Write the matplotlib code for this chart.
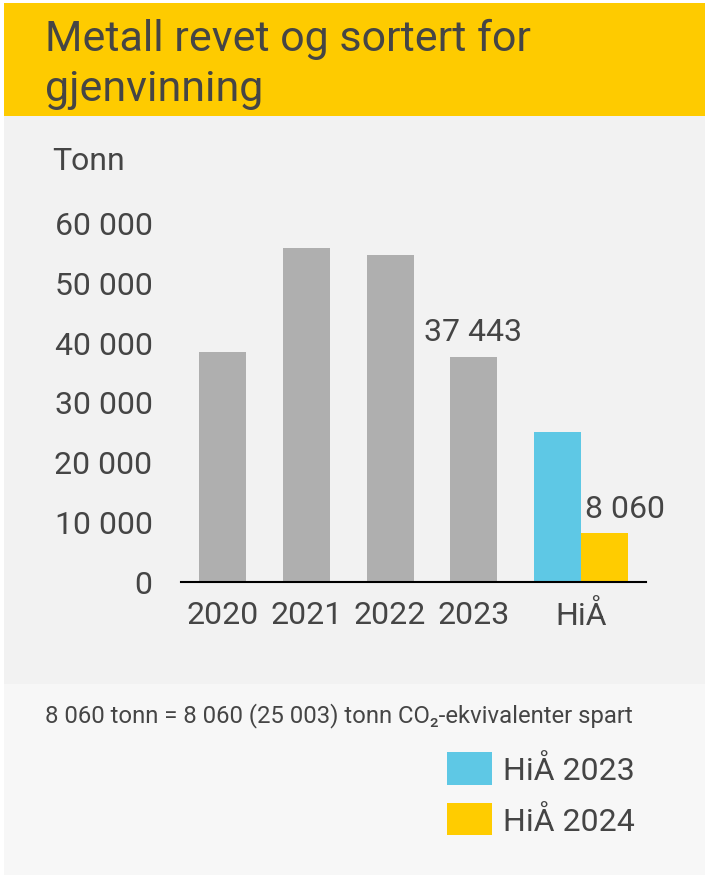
import matplotlib
matplotlib.use("Agg")
import matplotlib.pyplot as plt
from matplotlib.patches import Rectangle

plt.rcParams['font.family'] = ['Roboto', 'DejaVu Sans']

# data
aar = ["2020", "2021", "2022", "2023"]
tonn_aar = [38400, 55700, 54500, 37443]
hia_navn = "HiÅ"
hia_2023 = 25003
hia_2024 = 8060
y_ticks = [0, 10000, 20000, 30000, 40000, 50000, 60000]
y_tick_labels = ["0", "10 000", "20 000", "30 000", "40 000", "50 000", "60 000"]

tekst = "#454545"
graa = "#afafaf"
blaa = "#5ec8e5"
gul = "#ffcc00"

W, H = 705, 878
fig = plt.figure(figsize=(W / 100, H / 100), dpi=100)
fig.patch.set_facecolor("white")

# bakgrunner (pikselkoordinater -> figur)
def rect(x0, y0, x1, y1, farge):
    fig.patches.append(Rectangle((x0 / W, 1 - y1 / H), (x1 - x0) / W, (y1 - y0) / H,
                                 transform=fig.transFigure, facecolor=farge,
                                 edgecolor="none", zorder=-5))

rect(4, 4, W, 117, "#fecb00")
rect(4, 117, W, 685, "#f2f2f2")
rect(4, 685, W, 876, "#f7f7f7")

fig.text(45 / W, 1 - 39 / H, "Metall revet og sortert for", fontsize=31, color=tekst, va="center")
fig.text(45 / W, 1 - 89 / H, "gjenvinning", fontsize=31, color=tekst, va="center")

ax = fig.add_axes([181 / W, 1 - 582.5 / H, 465 / W, (582.5 - 223.5) / H])
ax.set_facecolor("none")
ax.set_zorder(2)

bredde = 0.56
x_aar = list(range(len(aar)))
ax.bar(x_aar, tonn_aar, width=bredde, color=graa)
x_hia = 4.28
b1 = ax.bar(x_hia - bredde / 2, hia_2023, width=bredde, color=blaa, label="HiÅ 2023")
b2 = ax.bar(x_hia + bredde / 2, hia_2024, width=bredde, color=gul, label="HiÅ 2024")

ax.annotate("37 443", (x_aar[3], tonn_aar[3]), xytext=(-1, 18.5), textcoords="offset points",
            ha="center", va="center", fontsize=23, color=tekst)
ax.annotate("8 060", (x_hia + bredde / 2, hia_2024), xytext=(15, 17.5), textcoords="offset points",
            ha="center", va="center", fontsize=23, color=tekst)

ax.set_xlim(-0.498, 5.055)
ax.set_ylim(0, 60000)
ax.set_xticks(x_aar + [x_hia])
ax.set_xticklabels(aar + [hia_navn])
ax.set_yticks(y_ticks)
ax.set_yticklabels(y_tick_labels)
ax.tick_params(axis="both", length=0, labelsize=23, colors=tekst)
ax.tick_params(axis="y", pad=20.5)
ax.tick_params(axis="x", pad=13)
for s in ["top", "right", "left"]:
    ax.spines[s].set_visible(False)
ax.spines["bottom"].set_color("black")
ax.spines["bottom"].set_linewidth(1.5)

fig.text(52 / W, 1 - 161 / H, "Tonn", fontsize=23, color=tekst, va="center")

fig.text(45 / W, 1 - 716 / H, "8 060 tonn = 8 060 (25 003) tonn CO\u2082-ekvivalenter spart",
         fontsize=17.2, color=tekst, va="center")

fig.legend(handles=[b1, b2], loc="upper left", bbox_to_anchor=(447 / W, 1 - 753 / H),
           frameon=False, fontsize=23, labelcolor=tekst, handlelength=1.4, handleheight=1.2,
           handletextpad=0.35, labelspacing=0.55, borderpad=0, borderaxespad=0)

fig.savefig("out.png", dpi=100)
